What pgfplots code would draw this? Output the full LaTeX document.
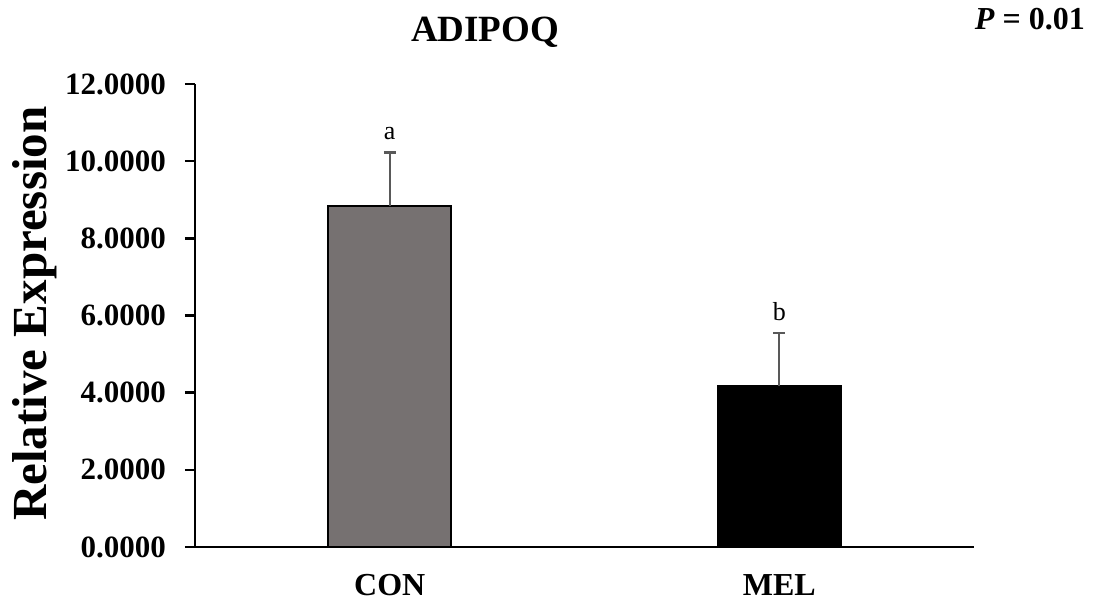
\documentclass[border=0pt]{standalone}
\usepackage{pgfplots}
\pgfplotsset{compat=1.18}
\usepackage{fontspec}
\setmainfont{Liberation Serif}

\definecolor{congray}{HTML}{767171}
\definecolor{errgray}{HTML}{595959}

\begin{document}
\begin{tikzpicture}
\begin{axis}[
  scale only axis,
  width=779pt, height=463pt,
  xmin=0, xmax=2,
  ymin=0, ymax=12,
  ytick={0,2,4,6,8,10,12},
  xtick={0.5,1.5},
  xticklabels={CON,MEL},
  axis x line=bottom,
  axis y line=left,
  axis line style={-, line width=2.4pt, black},
  major x tick style={draw=none},
  y tick style={line width=2.4pt, black},
  tick align=outside,
  major tick length=10pt,
  /pgf/number format/.cd, fixed, fixed zerofill, precision=4, 1000 sep={}, assume math mode=true,
  /pgfplots/.cd,
  yticklabel style={font=\fontsize{31}{31}\selectfont\bfseries, inner sep=0pt, xshift=-19pt},
  xticklabel style={font=\fontsize{32}{32}\selectfont\bfseries, inner sep=0pt, yshift=-17pt},
  ylabel={Relative Expression},
  ylabel style={font=\fontsize{49}{49}\selectfont\bfseries, at={(axis description cs:-0.2054,0.504)}, anchor=center, rotate=0},
  clip=false,
]
% group means with upward standard errors
\addplot[ybar, bar width=123pt, fill=congray, draw=black, line width=2pt,
  error bars/.cd, y dir=plus, y explicit,
  error bar style={errgray, line width=2.4pt},
  error mark options={rotate=90, mark size=6pt, errgray, line width=2.4pt}]
  coordinates {(0.5,8.83) +- (0,1.39)};
\addplot[ybar, bar width=123pt, fill=black, draw=black, line width=2pt,
  error bars/.cd, y dir=plus, y explicit,
  error bar style={errgray, line width=2.4pt},
  error mark options={rotate=90, mark size=6pt, errgray, line width=2.4pt}]
  coordinates {(1.5,4.16) +- (0,1.39)};
% significance letters
\node[font=\fontsize{26}{26}\selectfont, anchor=base] at (axis cs:0.5,10.55) {a};
\node[font=\fontsize{26}{26}\selectfont, anchor=base] at (axis cs:1.5,5.88) {b};
% title and p-value
\node[font=\fontsize{37}{37}\selectfont\bfseries, anchor=base, inner sep=0pt] at (290pt,505pt) {ADIPOQ};
\node[font=\fontsize{32}{32}\selectfont\bfseries, anchor=base east, inner sep=0pt] at (890pt,517pt) {\textit{P} = 0.01};
\end{axis}
\path[use as bounding box] (-195pt,-54pt) rectangle (899pt,547pt);
\end{tikzpicture}
\end{document}
